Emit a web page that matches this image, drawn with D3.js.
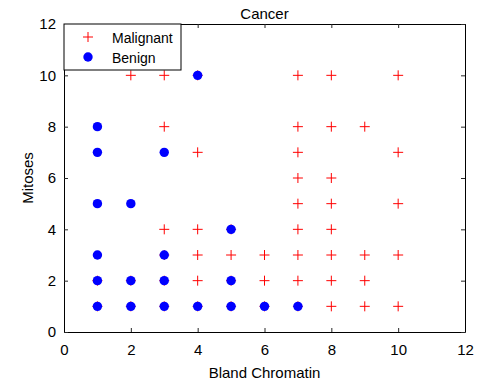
<!DOCTYPE html>
<html><head><meta charset="utf-8">
<script src="https://cdn.jsdelivr.net/npm/d3@7"></script>
<style>body{margin:0;background:#fff}svg{display:block}text{font-family:"Liberation Sans",Arial,sans-serif;fill:#000}</style>
</head><body>
<svg id="c" width="482" height="383"></svg>
<script>
const title = "Cancer";
const xLabel = "Bland Chromatin";
const yLabel = "Mitoses";
const xTicks = [0,2,4,6,8,10,12];
const yTicks = [0,2,4,6,8,10,12];
const seriesNames = ["Malignant","Benign"];
const malignantX = [2,3,4,7,8,10, 3,7,8,9, 4,7,10, 7,8, 7,8,10, 3,4,5,7,8, 3,4,5,6,7,8,9,10, 1,2,3,4,5,6,7,8,9, 1,2,3,4,5,6,7,8,9,10];
const malignantY = [10,10,10,10,10,10, 8,8,8,8, 7,7,7, 6,6, 5,5,5, 4,4,4,4,4, 3,3,3,3,3,3,3,3, 2,2,2,2,2,2,2,2,2, 1,1,1,1,1,1,1,1,1,1];
const benignX = [4, 1, 1,3, 1,2, 5, 1,3, 1,2,3,5, 1,2,3,4,5,6,7];
const benignY = [10, 8, 7,7, 5,5, 4, 3,3, 2,2,2,2, 1,1,1,1,1,1,1];

const svg = d3.select("#c");
const L=64, R=465, T=24, B=332;
const x = d3.scaleLinear().domain([0,12]).range([L,R]);
const y = d3.scaleLinear().domain([0,12]).range([B,T]);

// points
const mal = d3.zip(malignantX, malignantY);
const ben = d3.zip(benignX, benignY);
const s = 5;
const g = svg.append("g");
g.selectAll("path.m").data(mal).join("path").attr("class","m")
  .attr("d", d => `M${x(d[0])-s},${y(d[1])}H${x(d[0])+s}M${x(d[0])},${y(d[1])-s}V${y(d[1])+s}`)
  .attr("stroke","#ff0000").attr("stroke-width",1).attr("fill","none");
g.selectAll("circle.b").data(ben).join("circle").attr("class","b")
  .attr("cx", d=>x(d[0])).attr("cy", d=>y(d[1])).attr("r",4.7).attr("fill","#0000ff");

// axes
const fs = "15px";
const xa = svg.append("g").attr("transform",`translate(0,${B})`)
  .call(d3.axisBottom(x).tickValues(xTicks).tickSizeInner(-4).tickSizeOuter(0).tickPadding(12));
const xt = svg.append("g").attr("transform",`translate(0,${T})`)
  .call(d3.axisTop(x).tickValues(xTicks).tickSizeInner(-4).tickSizeOuter(0).tickFormat(""));
const ya = svg.append("g").attr("transform",`translate(${L},0)`)
  .call(d3.axisLeft(y).tickValues(yTicks).tickSizeInner(-4).tickSizeOuter(0).tickPadding(8));
const yr = svg.append("g").attr("transform",`translate(${R},0)`)
  .call(d3.axisRight(y).tickValues(yTicks).tickSizeInner(-4).tickSizeOuter(0).tickFormat(""));
[xa,xt,ya,yr].forEach(a=>{
  a.selectAll("path.domain").attr("stroke","#000").attr("stroke-width",1);
  a.selectAll("line").attr("stroke","#262626");
  a.selectAll("text").style("font-size",fs).attr("font-family","Liberation Sans, Arial, sans-serif").attr("fill","#000");
});

// title & labels
svg.append("text").attr("x",(L+R)/2).attr("y",19).attr("text-anchor","middle").style("font-size","15px").text(title);
svg.append("text").attr("x",(L+R)/2).attr("y",378).attr("text-anchor","middle").style("font-size","15px").text(xLabel);
svg.append("text").attr("transform",`translate(33,${(T+B)/2}) rotate(-90)`).attr("text-anchor","middle").style("font-size","15px").text(yLabel);

// legend
const lg = svg.append("g");
lg.append("rect").attr("x",L).attr("y",T).attr("width",117).attr("height",46).attr("fill","#fff").attr("stroke","#000").attr("stroke-width",1);
const lx = 88;
lg.append("path").attr("d",`M${lx-s},37H${lx+s}M${lx},${37-s}V${37+s}`).attr("stroke","#ff0000").attr("fill","none");
lg.append("circle").attr("cx",lx).attr("cy",57).attr("r",4.7).attr("fill","#0000ff");
lg.append("text").attr("x",112).attr("y",43).style("font-size","14px").text(seriesNames[0]);
lg.append("text").attr("x",112).attr("y",63).style("font-size","14px").text(seriesNames[1]);
</script>
</body></html>
